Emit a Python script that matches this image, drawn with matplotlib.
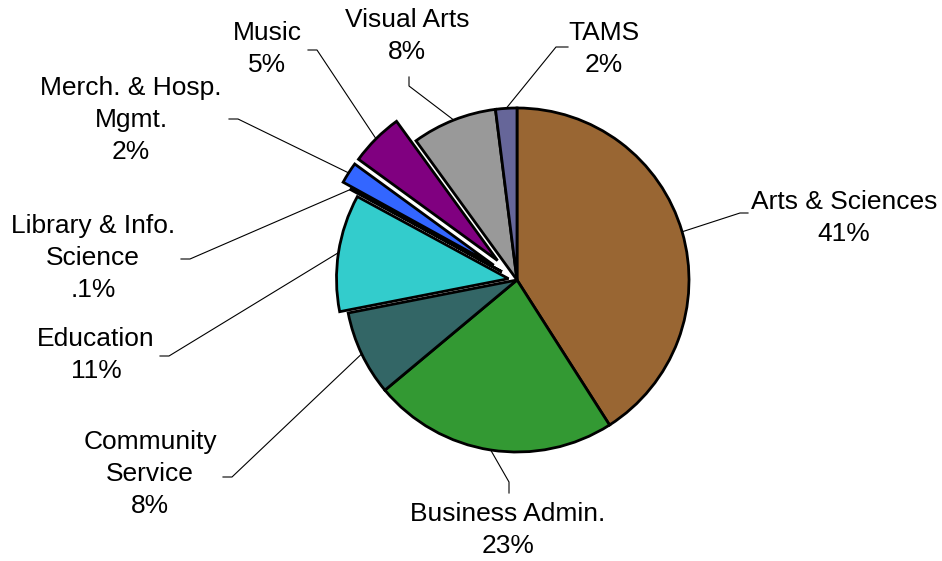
import numpy as np
import matplotlib
matplotlib.use("Agg")
import matplotlib.pyplot as plt

# slice data, clockwise from 12 o'clock
names = ["Arts & Sciences", "Business Admin.", "Community\nService", "Education",
         "Library & Info.\nScience", "Merch. & Hosp.\nMgmt.", "Music", "Visual Arts", "TAMS"]
pct_labels = ["41%", "23%", "8%", "11%", ".1%", "2%", "5%", "8%", "2%"]
shares = [41, 23, 8, 11, 0.1, 2, 5, 8, 2]
colors = ["#996633", "#339933", "#336666", "#33CCCC", "#000000",
          "#3366FF", "#800080", "#999999", "#666699"]
explode = [0, 0, 0, 0.05, 0.1, 0.16, 0.16, 0, 0]

# layout (pixel coords, y down): leader elbow, leader end, text centre
H = 561
elbows = [(740, 213), (509, 482), (232, 477), (169, 356), (190, 259),
          (238, 119), (317, 50), (409, 86), (556, 47)]
ends = [(748, 213), (509, 493), (223, 477), (160, 356), (181, 259),
        (229, 119), (308, 50), (409, 77), (568, 47)]
text_pos = [(844, 218), (508, 530), (150, 474), (96, 355), (93, 258),
            (131, 120), (267, 49), (407, 36), (604, 49)]

cx, cy, R = 517, 280, 172

fig = plt.figure(figsize=(9.42, 5.61), dpi=100)
ax = fig.add_axes([0, 0, 1, 1])
plt.rcParams['font.family'] = ['Liberation Sans', 'DejaVu Sans']

# pie's explode is in data units, so scale by radius
wedges, _ = ax.pie(shares, colors=colors, explode=[e * R for e in explode],
                   startangle=90, counterclock=False, center=(cx, H - cy), radius=R,
                   wedgeprops=dict(edgecolor="black", linewidth=2.0))

for i, w in enumerate(wedges):
    mid = np.deg2rad((w.theta1 + w.theta2) / 2)
    wx, wy = w.center
    sx = wx + w.r * np.cos(mid)
    sy = wy + w.r * np.sin(mid)
    ex, ey = elbows[i]
    tx, ty = ends[i]
    ax.plot([sx, ex, tx], [sy, H - ey, H - ty], color="black", lw=0.8)
    ax.text(text_pos[i][0], H - text_pos[i][1], names[i] + "\n" + pct_labels[i],
            ha="center", va="center", fontsize=19, linespacing=1.42,
            family=['Liberation Sans', 'DejaVu Sans'])

ax.set_xlim(0, 942)
ax.set_ylim(0, H)
ax.set_aspect("equal")
ax.axis("off")
fig.savefig("out.png", dpi=100)
